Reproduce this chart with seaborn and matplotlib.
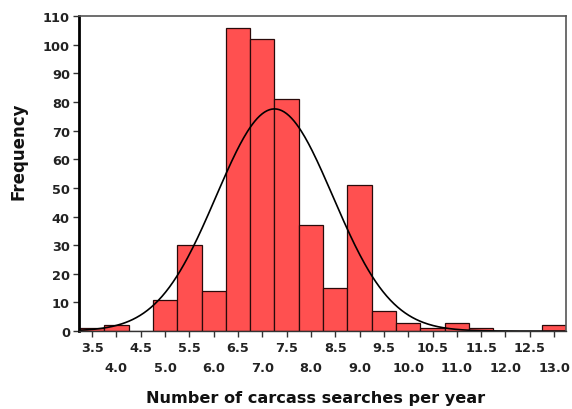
import numpy as np
import pandas as pd
import matplotlib
matplotlib.use("Agg")
import matplotlib.pyplot as plt
import seaborn as sns

# Data
bin_centers = [3.5, 4.0, 4.5, 5.0, 5.5, 6.0, 6.5, 7.0, 7.5, 8.0, 8.5, 9.0,
               9.5, 10.0, 10.5, 11.0, 11.5, 12.0, 12.5, 13.0]
frequencies = [1, 2, 0, 11, 30, 14, 106, 102, 81, 37, 15, 51,
               7, 3, 1, 3, 1, 0, 0, 2]
bin_width = 0.5
x_ticks_upper = [3.5, 4.5, 5.5, 6.5, 7.5, 8.5, 9.5, 10.5, 11.5, 12.5]
x_ticks_lower = [4.0, 5.0, 6.0, 7.0, 8.0, 9.0, 10.0, 11.0, 12.0, 13.0]
y_tick_values = list(range(0, 111, 10))

sns.set_theme(style="white")
plt.rcParams['font.family'] = ['DejaVu Sans']

df = pd.DataFrame({"searches": bin_centers, "freq": frequencies})
df_nz = df[df["freq"] > 0]

fig = plt.figure(figsize=(5.72, 4.10), dpi=100)
ax = fig.add_axes([0.138, 0.19, 0.852, 0.768])

edges = [float(c - bin_width / 2) for c in bin_centers] + \
        [float(bin_centers[-1] + bin_width / 2)]
sns.histplot(data=df_nz, x="searches", weights="freq", bins=edges,
             color="#ff5050", alpha=1.0, edgecolor="#2a0a0a",
             linewidth=0.9, ax=ax)

# fitted normal curve from data mean / sd
vals = np.array(bin_centers)
w = np.array(frequencies)
n = w.sum()
mu = np.average(vals, weights=w)
sd = np.sqrt(np.sum(w * (vals - mu) ** 2) / (n - 1))
xs = np.linspace(3.23, 13.25, 400)
ys = n * bin_width / (sd * np.sqrt(2 * np.pi)) * np.exp(-0.5 * ((xs - mu) / sd) ** 2)
sns.lineplot(x=xs, y=ys, color="black", linewidth=1.2, ax=ax)

ax.set_xlim(3.23, 13.25)
ax.set_ylim(0, 110)

tick_font = dict(fontsize=9.3, fontweight="bold", color="#222222")
ax.set_xticks(x_ticks_upper)
ax.set_xticklabels([f"{v:.1f}" for v in x_ticks_upper], **tick_font)
ax.set_xticks(x_ticks_lower, minor=True)
ax.set_xticklabels([f"{v:.1f}" for v in x_ticks_lower], minor=True, **tick_font)
ax.set_yticks(y_tick_values)
ax.set_yticklabels([str(v) for v in y_tick_values], **tick_font)

ax.tick_params(axis="both", which="both", direction="out", length=4, width=1,
               color="#333333", bottom=True, left=True)
ax.tick_params(axis="x", which="major", pad=3.0)
ax.tick_params(axis="x", which="minor", pad=17.4)
ax.tick_params(axis="y", pad=2.5)

ax.set_xlabel("Number of carcass searches per year", fontsize=11.6,
              fontweight="bold", color="#111111")
ax.set_ylabel("Frequency", fontsize=12, fontweight="bold", color="#111111")
ax.xaxis.set_label_coords(0.485, -0.187)
ax.yaxis.set_label_coords(-0.105, 0.575)

for side in ["top", "right"]:
    ax.spines[side].set_color("#555555")
    ax.spines[side].set_linewidth(1.2)
ax.spines["left"].set_color("black")
ax.spines["left"].set_linewidth(2.0)
ax.spines["bottom"].set_color("#333333")
ax.spines["bottom"].set_linewidth(1.0)
ax.grid(False)

fig.savefig("out.png", dpi=100)
